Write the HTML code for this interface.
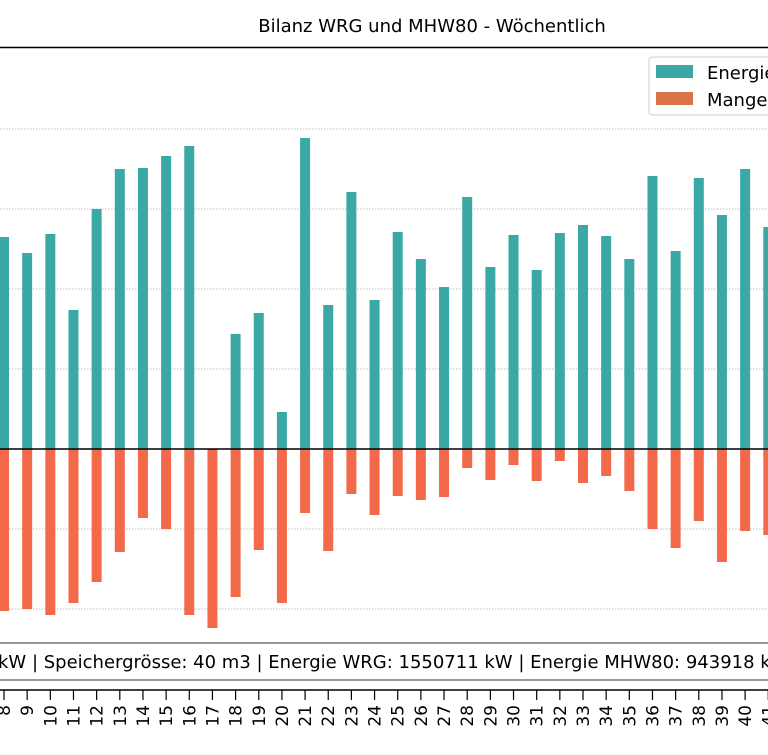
<!DOCTYPE html>
<html><head><meta charset="utf-8"><style>
body{margin:0;background:#fff;width:768px;height:750px;overflow:hidden}
text{font-family:"DejaVu Sans","Liberation Sans",sans-serif}
</style></head><body>
<svg id="c" width="768" height="750">
<text x="432" y="32" font-size="18" text-anchor="middle">Bilanz WRG und MHW80 - Wöchentlich</text>
<line x1="0" y1="47.5" x2="768" y2="47.5" stroke="#000" stroke-width="1.5"/>
<g id="grid"></g>
<g id="bars"></g>
<line x1="0" y1="449" x2="768" y2="449" stroke="#000" stroke-width="1.5"/>
<g>
<rect x="649" y="57" width="130" height="58" rx="3" fill="#fff" stroke="#ccc"/>
<rect x="656" y="65" width="37" height="13" fill="#3aa9a5"/>
<text x="707" y="79" font-size="18">Energie WRG</text>
<rect x="656" y="92" width="37" height="13" fill="#d9744a"/>
<text x="707" y="106" font-size="18">Mangel MHW80</text>
</g>
<g>
<line x1="0" y1="643" x2="768" y2="643" stroke="#999" stroke-width="2"/>
<line x1="0" y1="680" x2="768" y2="680" stroke="#999" stroke-width="2"/>
<text x="-2" y="668" font-size="18">kW | Speichergrösse: 40 m3 | Energie WRG: 1550711 kW | Energie MHW80: 943918 kW</text>
</g>
<line x1="0" y1="690" x2="768" y2="690" stroke="#000" stroke-width="1.5"/>
<g id="xt"></g>
</svg>
<script>
const weeks=[8,9,10,11,12,13,14,15,16,17,18,19,20,21,22,23,24,25,26,27,28,29,30,31,32,33,34,35,36,37,38,39,40,41];
const energie=[53000,49000,53750,34750,60000,70000,70250,73250,75750,0,28750,34000,9250,77750,36000,64250,37250,54250,47500,40500,63000,45500,53500,44750,54000,56000,53250,47500,68250,49500,67750,58500,70000,55500];
const mangel=[-40500,-40000,-41500,-38500,-33250,-25750,-17250,-20000,-41500,-44750,-37000,-25250,-38500,-16000,-25500,-11250,-16500,-11750,-12750,-12000,-4750,-7750,-4000,-8000,-3000,-8500,-6750,-10500,-20000,-24750,-18000,-28250,-20500,-21500];
const gridVals=[-40000,-20000,20000,40000,60000,80000];
const NS='http://www.w3.org/2000/svg';
const x=i=>4+i*23.16;
const y=v=>449-v/250;
const grid=document.getElementById('grid'),bars=document.getElementById('bars'),xt=document.getElementById('xt');
function mk(t,a,p){const e=document.createElementNS(NS,t);for(const k in a)e.setAttribute(k,a[k]);p.appendChild(e);return e;}
gridVals.forEach(g=>{
 const l=mk('line',{x1:0,x2:768,y1:y(g),y2:y(g),stroke:'#aaa','stroke-dasharray':'1.5,1.5','stroke-width':0.8},grid);
 
 
});
weeks.forEach((w,i)=>{
 const cx=x(i);
 const e=energie[i];
 const r1=mk('rect',{x:cx-5,y:y(e),width:10,height:449-y(e),fill:'#3aa9a5'},bars);
 
 
 const m=mangel[i];
 const r2=mk('rect',{x:cx-5,y:449,width:10,height:y(m)-449,fill:'#f26a4a'},bars);
 
 
 mk('line',{x1:cx,x2:cx,y1:690,y2:700,stroke:'#000','stroke-width':1.2},xt);
 const t=mk('text',{x:0,y:0,'font-size':17,'text-anchor':'end',transform:`translate(${cx+6},705) rotate(-90)`},xt);
 t.textContent=w;
 
 
});
</script>
</body></html>
